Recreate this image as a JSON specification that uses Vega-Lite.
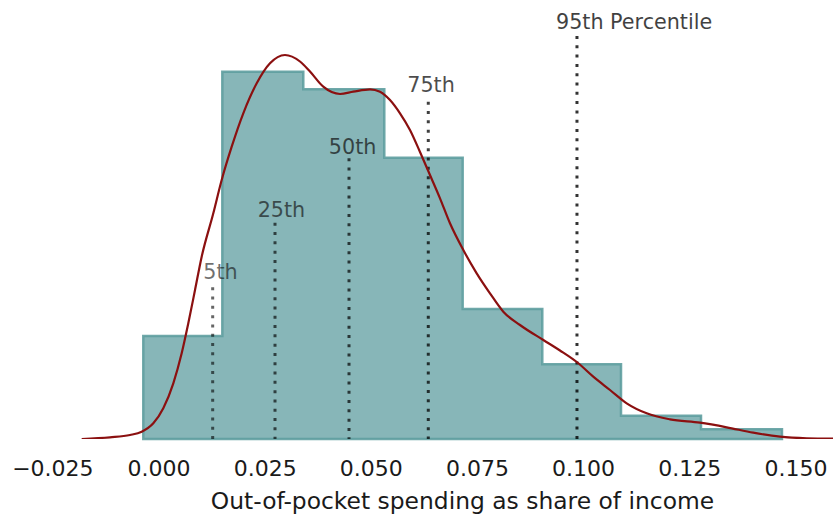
{
  "$schema": "https://vega.github.io/schema/vega-lite/v6.json",
  "width": 833,
  "height": 439,
  "autosize": {"type": "none"},
  "padding": {"left": 0, "top": 0, "right": 0, "bottom": 76},
  "background": "white",
  "config": {
    "view": {"stroke": null},
    "font": "DejaVu Sans"
  },
  "datasets": {
    "hist": [
      {"x": -0.00358, "density": 4.12},
      {"x": 0.01503, "density": 14.69},
      {"x": 0.03410, "density": 13.99},
      {"x": 0.05318, "density": 11.25},
      {"x": 0.07164, "density": 5.20},
      {"x": 0.09039, "density": 2.99},
      {"x": 0.10893, "density": 0.93},
      {"x": 0.12777, "density": 0.39},
      {"x": 0.14684, "density": 0.39}
    ],
    "kde": [
      {"x": -0.01809, "density": 0.0},
      {"x": -0.01142, "density": 0.068},
      {"x": -0.00671, "density": 0.16},
      {"x": -0.00396, "density": 0.292},
      {"x": -0.00122, "density": 0.628},
      {"x": 0.00113, "density": 1.228},
      {"x": 0.00349, "density": 2.228},
      {"x": 0.00546, "density": 3.428},
      {"x": 0.00702, "density": 4.628},
      {"x": 0.00860, "density": 5.96},
      {"x": 0.01017, "density": 7.292},
      {"x": 0.01291, "density": 9.028},
      {"x": 0.01488, "density": 10.36},
      {"x": 0.01724, "density": 11.692},
      {"x": 0.01997, "density": 13.028},
      {"x": 0.02313, "density": 14.228},
      {"x": 0.02626, "density": 15.028},
      {"x": 0.02979, "density": 15.36},
      {"x": 0.03333, "density": 15.10},
      {"x": 0.03568, "density": 14.70},
      {"x": 0.03881, "density": 14.092},
      {"x": 0.04275, "density": 13.8},
      {"x": 0.04588, "density": 13.892},
      {"x": 0.04981, "density": 13.988},
      {"x": 0.05217, "density": 13.892},
      {"x": 0.05452, "density": 13.56},
      {"x": 0.05688, "density": 13.028},
      {"x": 0.05923, "density": 12.36},
      {"x": 0.06159, "density": 11.48},
      {"x": 0.06394, "density": 10.56},
      {"x": 0.06630, "density": 9.628},
      {"x": 0.06865, "density": 8.628},
      {"x": 0.07179, "density": 7.56},
      {"x": 0.07494, "density": 6.628},
      {"x": 0.07807, "density": 5.828},
      {"x": 0.08121, "density": 5.092},
      {"x": 0.08514, "density": 4.56},
      {"x": 0.09063, "density": 3.96},
      {"x": 0.09456, "density": 3.54},
      {"x": 0.09880, "density": 3.04},
      {"x": 0.10240, "density": 2.492},
      {"x": 0.10634, "density": 1.96},
      {"x": 0.11027, "density": 1.428},
      {"x": 0.11498, "density": 1.028},
      {"x": 0.12046, "density": 0.788},
      {"x": 0.12753, "density": 0.652},
      {"x": 0.13382, "density": 0.468},
      {"x": 0.14008, "density": 0.252},
      {"x": 0.14637, "density": 0.092},
      {"x": 0.15266, "density": 0.028},
      {"x": 0.15886, "density": 0.012}
    ],
    "pct": [
      {"label": "5th", "x": 0.01276, "top": 6.07, "lx": 0.01055, "ly": 6.39},
      {"label": "25th", "x": 0.02744, "top": 8.65, "lx": 0.02336, "ly": 8.89},
      {"label": "50th", "x": 0.04487, "top": 11.23, "lx": 0.04011, "ly": 11.40},
      {"label": "75th", "x": 0.06354, "top": 13.49, "lx": 0.05858, "ly": 13.89},
      {"label": "95th Percentile", "x": 0.09856, "top": 16.12, "lx": 0.09362, "ly": 16.39}
    ]
  },
  "layer": [
    {
      "data": {"name": "hist"},
      "mark": {
        "type": "area",
        "interpolate": "step-after",
        "fill": "#5f9ea0",
        "fillOpacity": 0.75,
        "stroke": "#5f9ea0",
        "strokeOpacity": 0.9,
        "strokeWidth": 2.5
      },
      "encoding": {
        "x": {
          "field": "x",
          "type": "quantitative",
          "scale": {"domain": [-0.03733, 0.15886], "nice": false, "zero": false},
          "axis": {
            "title": "Out-of-pocket spending as share of income",
            "titleFont": "DejaVu Sans",
            "titleFontSize": 23.4,
            "titleFontWeight": "normal",
            "titleColor": "#1a1a1a",
            "titleX": 462,
            "titleY": 69,
            "titleBaseline": "alphabetic",
            "values": [-0.025, 0, 0.025, 0.05, 0.075, 0.1, 0.125, 0.15],
            "format": ".3f",
            "labelFont": "DejaVu Sans",
            "labelFontSize": 22,
            "labelColor": "#1a1a1a",
            "labelBaseline": "alphabetic",
            "labelPadding": 36,
            "labelFlush": false,
            "labelOverlap": false,
            "ticks": false,
            "domain": false,
            "grid": false
          }
        },
        "y": {
          "field": "density",
          "type": "quantitative",
          "scale": {"domain": [0, 17.56], "nice": false},
          "axis": null
        }
      }
    },
    {
      "data": {"name": "pct"},
      "mark": {"type": "rule", "color": "black", "strokeWidth": 3, "strokeDash": [3, 6.3]},
      "encoding": {
        "x": {"field": "x", "type": "quantitative"},
        "y": {"field": "top", "type": "quantitative"},
        "y2": {"datum": 0},
        "opacity": {
          "field": "label",
          "type": "nominal",
          "scale": {"domain": ["5th", "25th", "50th", "75th", "95th Percentile"], "range": [0.6, 0.8, 1, 0.8, 0.6]},
          "legend": null
        }
      }
    },
    {
      "data": {"name": "pct"},
      "mark": {"type": "text", "align": "left", "baseline": "alphabetic", "font": "DejaVu Sans", "fontSize": 20.7, "color": "#111111"},
      "encoding": {
        "x": {"field": "lx", "type": "quantitative"},
        "y": {"field": "ly", "type": "quantitative"},
        "text": {"field": "label"},
        "opacity": {
          "field": "label",
          "type": "nominal",
          "scale": {"domain": ["5th", "25th", "50th", "75th", "95th Percentile"], "range": [0.85, 0.95, 1, 0.95, 0.9]},
          "legend": null
        }
      }
    },
    {
      "data": {"name": "kde"},
      "mark": {"type": "line", "color": "#8b1010", "strokeWidth": 2.2, "interpolate": "monotone", "clip": true},
      "encoding": {
        "x": {"field": "x", "type": "quantitative"},
        "y": {"field": "density", "type": "quantitative"}
      }
    }
  ]
}
